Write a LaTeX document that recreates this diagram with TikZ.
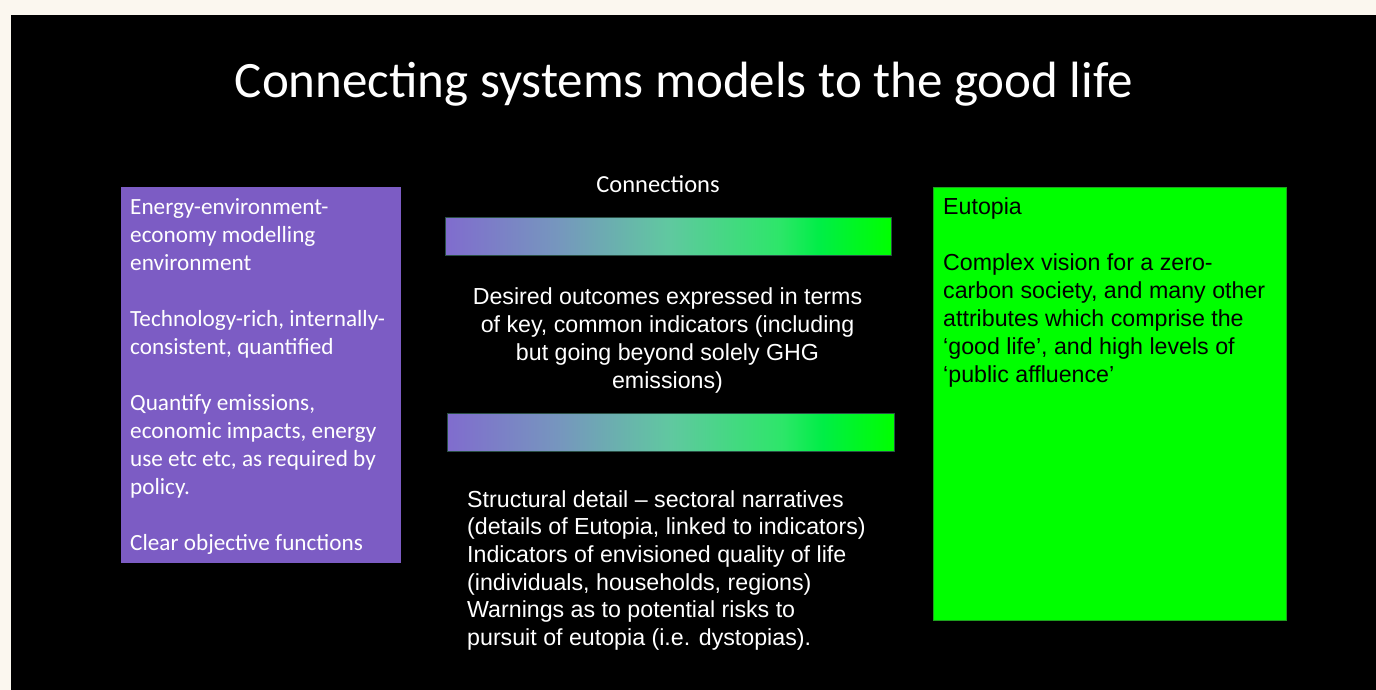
\documentclass[tikz,border=0pt]{standalone}
\usepackage{fontspec}
\setmainfont{Liberation Sans}
\newfontfamily\calibri{Carlito}
\definecolor{cream}{HTML}{FBF7EF}
\definecolor{boxpurple}{HTML}{7C5CC4}
\definecolor{boxgreen}{HTML}{00FF00}
\definecolor{greenedge}{HTML}{1FA01F}
\definecolor{baredge}{HTML}{2A4F45}
\definecolor{ga}{RGB}{128,108,206}
\definecolor{gb}{RGB}{118,150,190}
\definecolor{gc}{RGB}{96,200,160}
\definecolor{gd}{RGB}{45,230,105}
\definecolor{ge}{RGB}{0,238,70}
\definecolor{gf}{RGB}{0,255,0}
\pgfdeclarehorizontalshading{connbar}{100bp}{color(0bp)=(ga); color(25bp)=(ga); color(37.5bp)=(gb); color(50bp)=(gc); color(62.5bp)=(gd); color(67bp)=(ge); color(75bp)=(gf); color(100bp)=(gf)}
\tikzset{
  calfont/.style={font=\calibri\fontsize{23.2}{28}\selectfont},
  arfont/.style={font=\fontsize{23.2}{28}\selectfont},
  bar/.style={shading=connbar, draw=baredge, line width=0.8pt},
  txt/.style={inner sep=0pt, align=left}
}
\begin{document}
\begin{tikzpicture}[x=1pt,y=-1pt]
\useasboundingbox (0,0) rectangle (1376,690);
\fill[cream] (0,0) rectangle (1376,690);
\fill[black] (11,15) rectangle (1376,690);
% title
\node[anchor=base, inner sep=0pt, text=white, font=\calibri\fontsize{51}{60}\selectfont] (title) at (684,98) {Connecting systems models to the good life};
% left purple box
\fill[boxpurple] (121,187) rectangle (401,563);
\coordinate (purple) at (121,187);
\node[txt, calfont, text=white, anchor=base west] (ptext) at (130,550)
 {Energy-environment-\\economy modelling\\environment\\[28pt]Technology-rich, internally-\\consistent, quantified\\[28pt]Quantify emissions,\\economic impacts, energy\\use etc etc, as required by\\policy.\\[28pt]Clear objective functions};
% right green box
\filldraw[fill=boxgreen, draw=greenedge, line width=0.8pt] (933,187) rectangle (1286,620);
\coordinate (green) at (933,187);
\node[txt, arfont, text=black, anchor=base west] (gtext) at (943,382)
 {Eutopia\\[28pt]Complex vision for a zero-\\carbon society, and many other\\attributes which comprise the\\‘good life’, and high levels of\\‘public affluence’};
% connections
\node[anchor=base, inner sep=0pt, text=white, font=\calibri\fontsize{24.5}{29}\selectfont] (conn) at (658,193) {Connections};
\shadedraw[bar] (445,217) rectangle (891,255);
\coordinate (bar1) at (445,217);
\node[txt, align=center, arfont, text=white, anchor=base] (mid1) at (667.5,388)
 {Desired outcomes expressed in terms\\of key, common indicators (including\\but going beyond solely GHG\\emissions)};
\shadedraw[bar] (447,413) rectangle (894,451);
\coordinate (bar2) at (447,413);
\node[txt, font=\fontsize{23.2}{27.7}\selectfont, text=white, anchor=base west] (mid2) at (467,645.5)
 {Structural detail – sectoral narratives\\(details of Eutopia, linked to indicators)\\Indicators of envisioned quality of life\\(individuals, households, regions)\\Warnings as to potential risks to\\pursuit of eutopia (i.e. dystopias).};
\end{tikzpicture}
\end{document}
